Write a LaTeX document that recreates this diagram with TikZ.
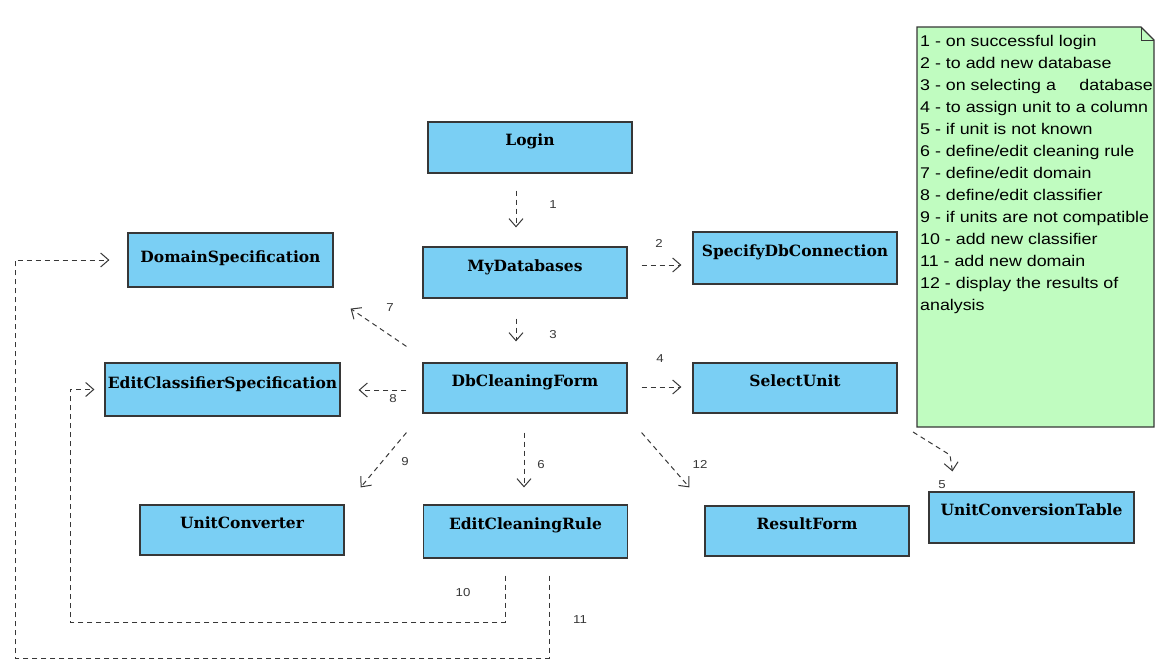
\documentclass[tikz,border=0pt]{standalone}
\usepackage{fontspec}
\setmainfont{Liberation Sans}
\newfontfamily\notefont[FakeStretch=1.15]{Liberation Sans}
\newfontfamily\formfont{DejaVu Serif}
\usetikzlibrary{arrows.meta}

\definecolor{formblue}{RGB}{122,207,244}
\definecolor{notegreen}{RGB}{192,252,192}
\definecolor{edgegray}{RGB}{55,55,55}

\tikzset{
  form/.style={draw=edgegray, line width=1.2pt, fill=formblue, minimum width=204pt,
    inner xsep=0pt, inner ysep=0pt, text height=24pt, text depth=27pt,
    font=\formfont\bfseries\fontsize{15.5}{17}\selectfont},
  dep/.style={draw=edgegray, line width=1pt, dash pattern=on 5pt off 4pt,
    -{Straight Barb[length=8pt,width=14pt]}},
  num/.style={font=\notefont\fontsize{11.5}{13}\selectfont, text=edgegray, inner sep=0pt},
  notebody/.style={draw=edgegray, line width=1.2pt, fill=notegreen},
  legend/.style={align=left, inner sep=0pt, font=\notefont\fontsize{15.5}{22}\selectfont}
}

\begin{document}
\begin{tikzpicture}[x=1pt, y=-1pt]
 \useasboundingbox (0,0) rectangle (1155,660);

 % legend note
 \draw[notebody] (917,27) -- (1141,27) -- (1154,40) -- (1154,427) -- (917,427) -- cycle;
 \draw[edgegray, line width=0.8pt] (1141,27) -- (1141,40) -- (1154,40);
 \node[legend, anchor=north west] (legend) at (920,35) {%
   1 - on successful login\\
   2 - to add new database\\
   3 - on selecting a\hspace{1.2em} database\\
   4 - to assign unit to a column\\
   5 - if unit is not known\\
   6 - define/edit cleaning rule\\
   7 - define/edit domain\\
   8 - define/edit classifier\\
   9 - if units are not compatible\\
   10 - add new classifier\\
   11 - add new domain\\
   12 - display the results of\\
   analysis};
 \coordinate (notefoot) at (913,432);

 % forms
 \node[form] (login) at (530,147.5) {Login};
 \node[form] (mydb) at (525,272.5) {MyDatabases};
 \node[form, text depth=28pt] (specdb) at (795,258) {SpecifyDbConnection};
 \node[form, minimum width=205pt, text height=29pt, text depth=25pt] (domspec) at (230.5,260) {DomainSpecification};
 \node[form, minimum width=235pt, text height=25pt, text depth=28pt] (editcls) at (222.5,389.5) {EditClassifierSpecification};
 \node[form, text height=23pt] (dbclean) at (525,388) {DbCleaningForm};
 \node[form, text height=23pt] (selunit) at (795,388) {SelectUnit};
 \node[form, text height=23pt] (unitconv) at (242,530) {UnitConverter};
 \node[form, text depth=29pt] (editrule) at (525.5,531.5) {EditCleaningRule};
 \node[form, text height=23pt] (result) at (807,531) {ResultForm};
 \node[form, minimum width=205pt, text height=23pt, text depth=28pt] (uct) at (1031.5,517.5) {UnitConversionTable};

 % transitions
 \draw[dep] ([xshift=-14pt, yshift=-17pt]login.south) -- ([xshift=-9pt, yshift=19pt]mydb.north);
 \node[num] (n1) at (553,205) {1};
 \draw[dep] ([xshift=14pt, yshift=7.5pt]mydb.east) -- ([xshift=-11pt, yshift=-7pt]specdb.west);
 \node[num] (n2) at (659,243) {2};
 \draw[dep] ([xshift=-9pt, yshift=-20pt]mydb.south) -- ([xshift=-9pt, yshift=21pt]dbclean.north);
 \node[num] (n3) at (553,335) {3};
 \draw[dep] ([xshift=14pt, yshift=1pt]dbclean.east) -- ([xshift=-11pt, yshift=1pt]selunit.west);
 \node[num] (n4) at (660,359) {4};
 \draw[dep] (notefoot) -- ++(37,23) -- ([xshift=24pt, yshift=20pt]uct.north west);
 \node[num] (n5) at (942,485) {5};
 \draw[dep] ([xshift=-1pt, yshift=-19pt]dbclean.south) -- ([xshift=-1.5pt, yshift=17pt]editrule.north);
 \node[num] (n6) at (541,465) {6};
 \draw[dep] ([xshift=-16pt, yshift=16pt]dbclean.north west) -- ([xshift=17pt, yshift=-21pt]domspec.south east);
 \node[num] (n7) at (390,308) {7};
 \draw[dep] ([xshift=-16pt, yshift=-2pt]dbclean.west) -- ([xshift=18pt, yshift=-0.5pt]editcls.east);
 \node[num] (n8) at (393,399) {8};
 \draw[dep] ([xshift=-16pt, yshift=-19pt]dbclean.south west) -- ([xshift=16pt, yshift=17pt]unitconv.north east);
 \node[num] (n9) at (405,462) {9};
 \draw[dep] ([xshift=14pt, yshift=-19pt]dbclean.south east) -- ([xshift=-15pt, yshift=18pt]result.north west);
 \node[num] (n12) at (700,464) {12};

 % back to the specifications
 \draw[dep] ([xshift=-20.5pt, yshift=-17pt]editrule.south) |- (70,622) |- ([xshift=-10pt]editcls.west);
 \node[num] (n10) at (463,593) {10};
 \draw[dep] ([xshift=23.5pt, yshift=-17pt]editrule.south) |- (15,658) |- ([xshift=-18pt]domspec.west);
 \node[num] (n11) at (580,620) {11};
\end{tikzpicture}
\end{document}
